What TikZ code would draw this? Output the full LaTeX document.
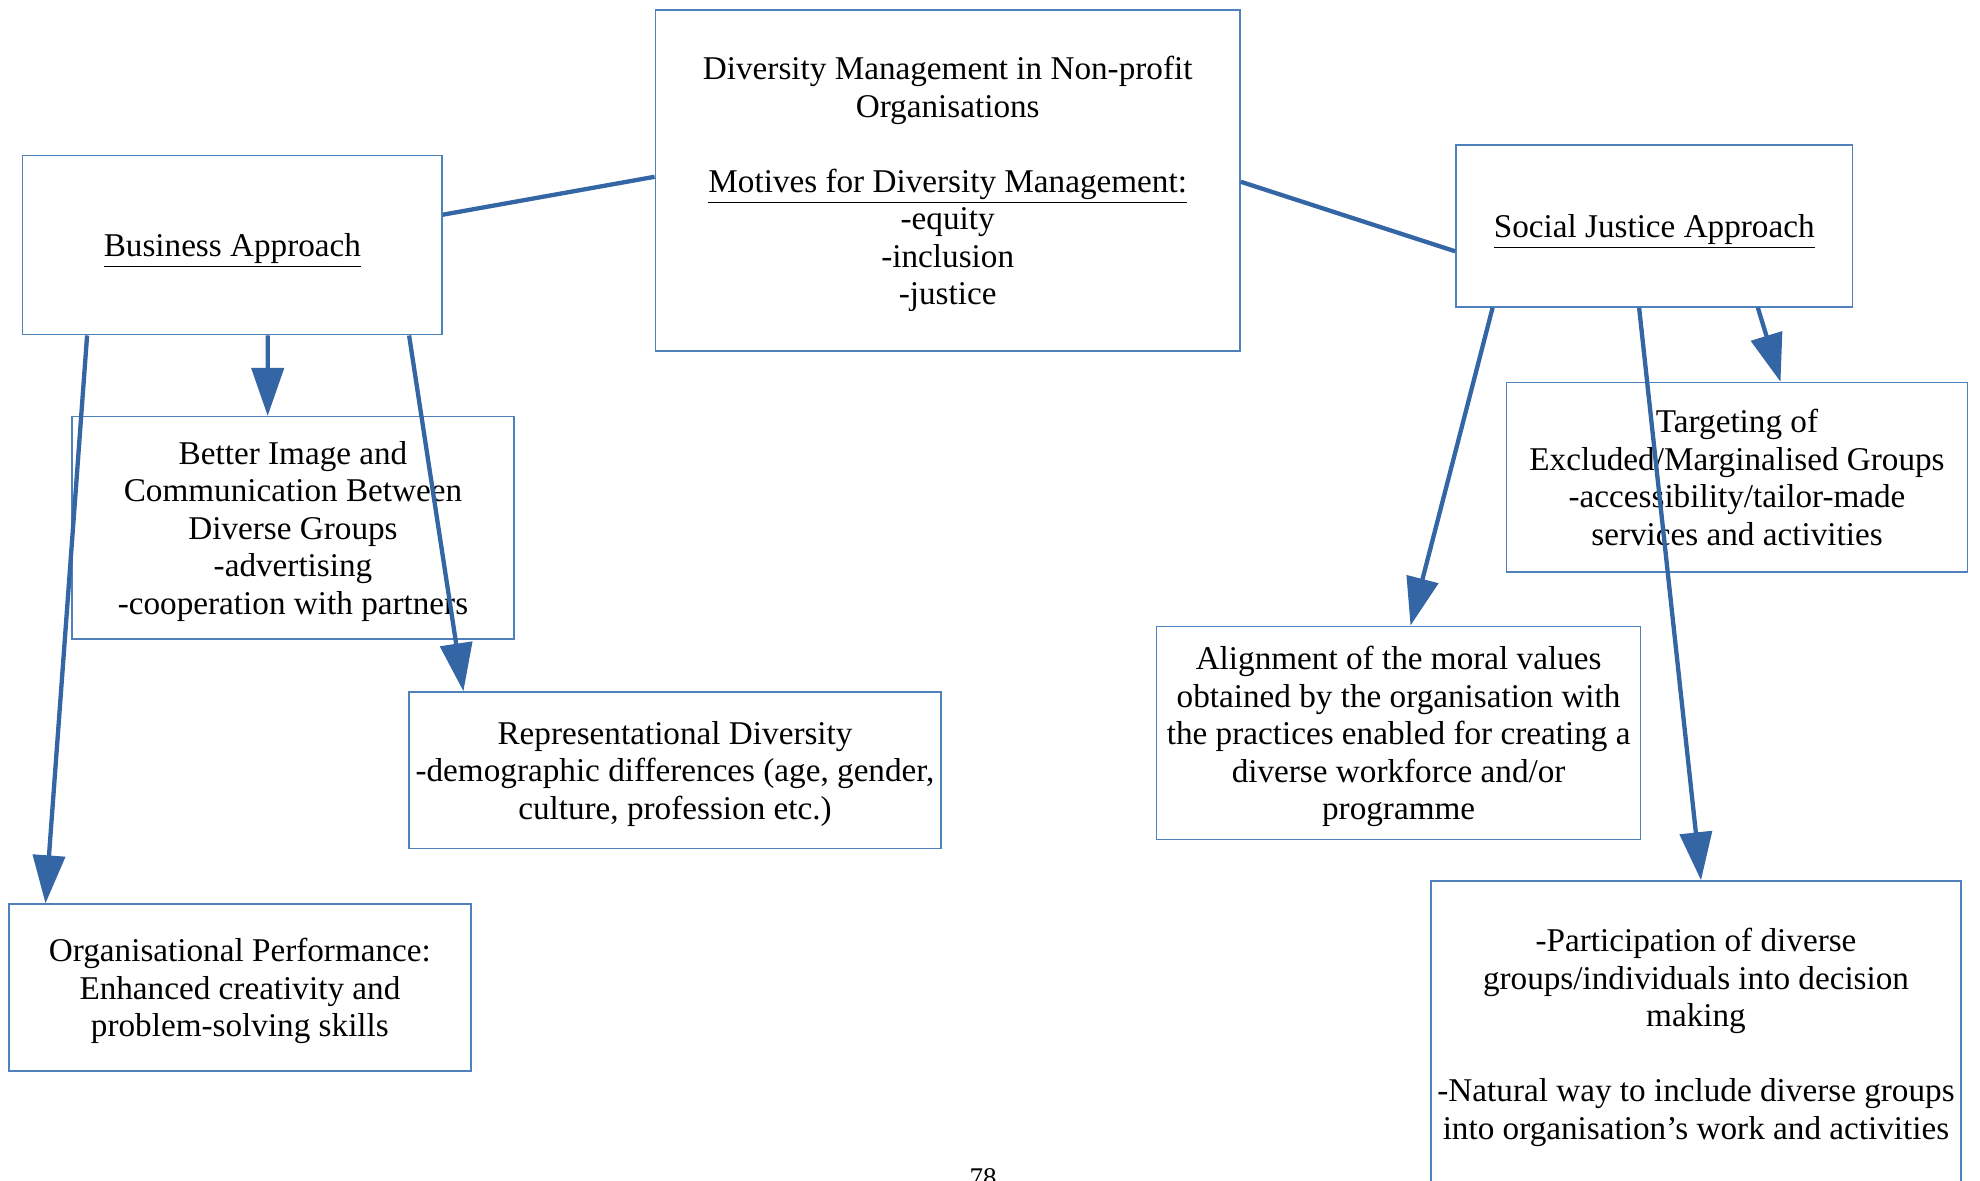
\documentclass[tikz,border=0pt]{standalone}
\usepackage{fontspec}
\setmainfont{Liberation Serif}
\usetikzlibrary{arrows.meta,calc}
\definecolor{linecol}{RGB}{52,101,164}
\definecolor{bordercol}{RGB}{79,129,189}
\newcommand{\boxfont}{\fontsize{16.6pt}{18.75pt}\selectfont}
\begin{document}
\begin{tikzpicture}[x=0.5pt,y=-0.5pt,
  box/.style={draw=bordercol, line width=0.75pt, inner sep=0pt, align=center, font=\boxfont, text=black, text depth=-2.2pt},
  ulbox/.style={box, text depth=-4.8pt},
  conn/.style={draw=linecol, line width=2.15pt, -{Triangle[length=24pt,width=16pt]}},
  link/.style={draw=linecol, line width=2.15pt}]
\fill[white] (0,0) rectangle (1980,1181);
\useasboundingbox (0,0) rectangle (1980,1181);

\node[box, minimum width=292.4pt, minimum height=170.5pt] (center) at (947.7,180.6)
  {Diversity Management in Non-profit\\Organisations\\[18.75pt]\underline{Motives for Diversity Management:}\\-equity\\-inclusion\\-justice};
\node[ulbox, minimum width=209.7pt, minimum height=89.7pt] (bus) at (232.4,245)
  {\underline{Business Approach}};
\node[box, minimum width=221pt, minimum height=111.2pt] (better) at (293,527.9)
  {Better Image and\\Communication Between\\Diverse Groups\\-advertising\\-cooperation with partners};
\node[box, minimum width=265.9pt, minimum height=78.3pt] (rep) at (675,770.3)
  {Representational Diversity\\-demographic differences (age, gender,\\culture, profession etc.)};
\node[box, minimum width=231.1pt, minimum height=83.4pt] (org) at (239.9,987.5)
  {Organisational Performance:\\Enhanced creativity and\\problem-solving skills};
\node[ulbox, minimum width=198.3pt, minimum height=80.9pt] (social) at (1654.2,226)
  {\underline{Social Justice Approach}};
\node[box, minimum width=230.5pt, minimum height=94.7pt] (target) at (1737,477.3)
  {Targeting of\\Excluded/Marginalised Groups\\-accessibility/tailor-made\\services and activities};
\node[box, minimum width=241.9pt, minimum height=106.7pt] (align) at (1398.6,733)
  {Alignment of the moral values\\obtained by the organisation with\\the practices enabled for creating a\\diverse workforce and/or\\programme};
\node[box, minimum width=265.2pt, minimum height=153pt] (part) at (1696,1034)
  {-Participation of diverse\\groups/individuals into decision\\making\\[18.75pt]-Natural way to include diverse groups\\into organisation’s work and activities};
\node[font=\fontsize{13.5pt}{16pt}\selectfont] (pg) at (983,1178) {78};

\draw[link] ($(bus.east)+(0,-30.3)$) -- ($(center.west)+(0,-3.8)$);
\draw[link] ($(center.east)+(0,1.2)$) -- ($(social.west)+(0,25.3)$);
\draw[conn] ($(bus.south)+(35.3,0)$) -- ($(better.north)+(-25.3,0)$);
\draw[conn] ($(bus.south)+(-145.3,0)$) -- ($(org.north)+(-194.4,0)$);
\draw[conn] ($(bus.south)+(176.7,0)$) -- ($(rep.north)+(-211.6,0)$);
\draw[conn] ($(social.south)+(-161.6,0)$) -- ($(align.north)+(11.9,0)$);
\draw[conn] ($(social.south)+(-15.1,0)$) -- ($(part.north)+(5,0)$);
\draw[conn] ($(social.south)+(103.6,0)$) -- ($(target.north)+(43.5,0)$);
\end{tikzpicture}
\end{document}
